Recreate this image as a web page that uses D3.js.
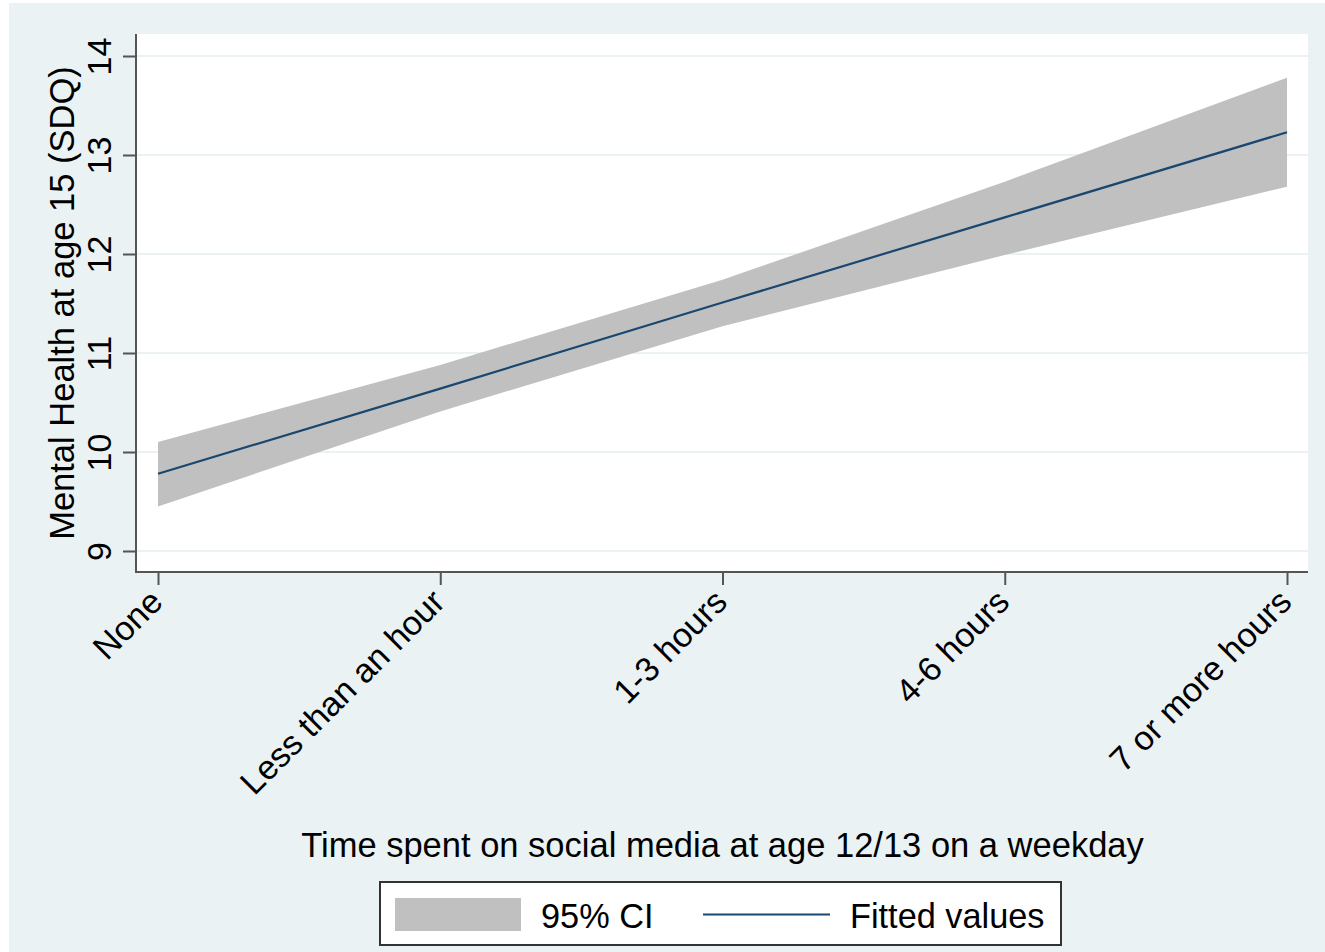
<!DOCTYPE html>
<html>
<head>
<meta charset="utf-8">
<script src="https://cdn.jsdelivr.net/npm/d3@7"></script>
<style>
  html, body { margin: 0; padding: 0; background: #ffffff; }
  svg { display: block; }
  text { font-family: "Liberation Sans", Arial, sans-serif; fill: #000; }
</style>
</head>
<body>
<svg id="chart" width="1325" height="952"></svg>
<script>
// Categories of weekday social media use at age 12/13
const categories = ["None", "Less than an hour", "1-3 hours", "4-6 hours", "7 or more hours"];
// Predicted SDQ score at age 15 and its 95% confidence limits
const fitted = [9.78, 10.64, 11.51, 12.37, 13.23];
const ciUpper = [10.10, 10.88, 11.74, 12.73, 13.78];
const ciLower = [9.45, 10.41, 11.27, 11.99, 12.68];
const yTicks = [9, 10, 11, 12, 13, 14];

const xTitle = "Time spent on social media at age 12/13 on a weekday";
const yTitle = "Mental Health at age 15 (SDQ)";
const legendLabels = ["95% CI", "Fitted values"];

const W = 1325, H = 952;
const plot = { left: 137, right: 1308, top: 34, bottom: 572 };
const colors = { bg: "#eaf2f3", grid: "#eaf2f3", ci: "#c0c0c0", line: "#1a476f", axis: "#555555" };
const tickFont = 34;
const titleFont = 34.5;
const yTitleFont = 34.5;
const legendFont = 34.3;

const svg = d3.select("#chart");

// outer graph region
svg.append("rect").attr("x", 9).attr("y", 3).attr("width", W - 9).attr("height", H - 3)
  .attr("fill", colors.bg);
// plot region
svg.append("rect").attr("x", plot.left).attr("y", plot.top)
  .attr("width", plot.right - plot.left).attr("height", plot.bottom - plot.top)
  .attr("fill", "#ffffff");

const x = d3.scalePoint().domain(categories).range([158, 1287]);
const y = d3.scaleLinear().domain([9, 14]).range([551, 56]);

// horizontal grid lines
svg.append("g").selectAll("line").data(yTicks).join("line")
  .attr("x1", plot.left).attr("x2", plot.right)
  .attr("y1", d => y(d)).attr("y2", d => y(d))
  .attr("stroke", colors.grid).attr("stroke-width", 2);

const rows = categories.map((c, i) => ({ c, fit: fitted[i], lo: ciLower[i], hi: ciUpper[i] }));

// confidence band
svg.append("path").datum(rows)
  .attr("d", d3.area().x(d => x(d.c)).y0(d => y(d.lo)).y1(d => y(d.hi)))
  .attr("fill", colors.ci);

// fitted line
svg.append("path").datum(rows)
  .attr("d", d3.line().x(d => x(d.c)).y(d => y(d.fit)))
  .attr("fill", "none").attr("stroke", colors.line).attr("stroke-width", 2.2);

// y axis
const yAxis = svg.append("g").attr("transform", `translate(${plot.left - 1},0)`)
  .call(d3.axisLeft(y).tickValues(yTicks).tickFormat(d3.format("d"))
    .tickSize(13).tickSizeOuter(0).tickPadding(0));
yAxis.select(".domain").remove();
yAxis.append("line").attr("x1", 0).attr("x2", 0).attr("y1", plot.top).attr("y2", plot.bottom + 1)
  .attr("stroke", colors.axis).attr("stroke-width", 2);
yAxis.selectAll(".tick line").attr("stroke", colors.axis).attr("stroke-width", 2);
yAxis.selectAll(".tick text")
  .attr("font-size", tickFont).attr("fill", "#000")
  .attr("text-anchor", "middle")
  .attr("transform", "rotate(-90)")
  .attr("x", 0).attr("y", -25).attr("dy", 0);

// x axis
const xAxis = svg.append("g").attr("transform", `translate(0,${plot.bottom})`)
  .call(d3.axisBottom(x).tickSize(13).tickSizeOuter(0).tickPadding(0));
xAxis.select(".domain").remove();
xAxis.append("line").attr("x1", plot.left - 2).attr("x2", plot.right).attr("y1", 0).attr("y2", 0)
  .attr("stroke", colors.axis).attr("stroke-width", 2);
xAxis.selectAll(".tick line").attr("stroke", colors.axis).attr("stroke-width", 2);
xAxis.selectAll(".tick text")
  .attr("font-size", tickFont).attr("fill", "#000")
  .attr("text-anchor", "end")
  .attr("x", 0).attr("y", 0).attr("dy", 0)
  .attr("transform", "translate(6,32) rotate(-45)");

// axis titles
svg.append("text").attr("x", (plot.left + plot.right) / 2).attr("y", 857)
  .attr("text-anchor", "middle").attr("font-size", titleFont).text(xTitle);
svg.append("text").attr("transform", `translate(74,${(plot.top + plot.bottom) / 2}) rotate(-90)`)
  .attr("text-anchor", "middle").attr("font-size", yTitleFont).text(yTitle);

// legend
const lg = svg.append("g");
lg.append("rect").attr("x", 380).attr("y", 882).attr("width", 681).attr("height", 63)
  .attr("fill", "#ffffff").attr("stroke", "#333333").attr("stroke-width", 2);
lg.append("rect").attr("x", 395).attr("y", 898).attr("width", 126).attr("height", 33)
  .attr("fill", colors.ci);
lg.append("text").attr("x", 541).attr("y", 928).attr("font-size", legendFont).text(legendLabels[0]);
lg.append("line").attr("x1", 703).attr("x2", 830).attr("y1", 914.5).attr("y2", 914.5)
  .attr("stroke", colors.line).attr("stroke-width", 2.2);
lg.append("text").attr("x", 850).attr("y", 928).attr("font-size", legendFont).text(legendLabels[1]);
</script>
</body>
</html>
